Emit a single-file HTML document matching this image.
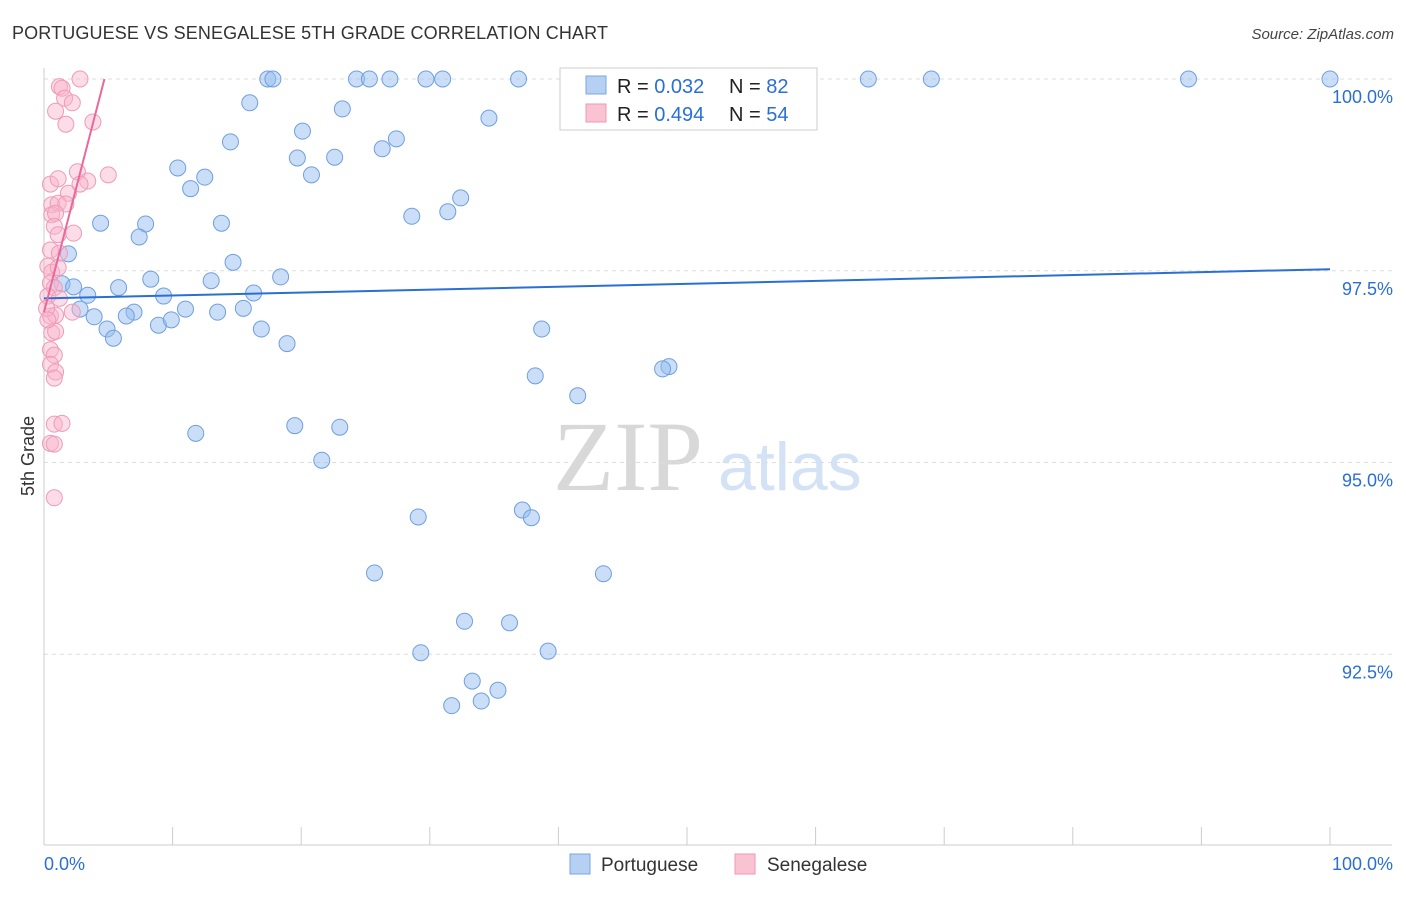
<!DOCTYPE html>
<html><head><meta charset="utf-8"><style>
body{margin:0;background:#fff;font-family:"Liberation Sans",sans-serif}
</style></head><body>
<svg id="chart" width="1406" height="892" xmlns="http://www.w3.org/2000/svg" font-family="Liberation Sans, sans-serif">
<text x="12" y="39" font-size="18" fill="#333" textLength="596">PORTUGUESE VS SENEGALESE 5TH GRADE CORRELATION CHART</text>
<text x="1394" y="39" font-size="15" fill="#444" text-anchor="end" font-style="italic">Source: ZipAtlas.com</text>
<text x="553" y="490" font-size="100" fill="#d8d8d8" style="font-family:'Liberation Serif',serif">ZIP</text>
<text x="718" y="490" font-size="68" fill="#d3e2f5">atlas</text>
<text transform="translate(34,456) rotate(-90)" font-size="18" fill="#333" text-anchor="middle">5th Grade</text>
<g id="grid"></g><g id="axes"></g><g id="pts"></g><g id="trends"></g>
<g>
<rect x="560" y="68" width="257" height="62" fill="#fff" stroke="#ccc"/>
<rect x="586" y="76" width="20" height="18" fill="#b5d0f2" stroke="#7aa7e0"/>
<text x="617" y="93" font-size="20" fill="#222">R = <tspan fill="#2a6fd4">0.032</tspan></text>
<text x="729" y="93" font-size="20" fill="#222">N = <tspan fill="#2a6fd4">82</tspan></text>
<rect x="586" y="104" width="20" height="18" fill="#fac3d3" stroke="#ee98b5"/>
<text x="617" y="121" font-size="20" fill="#222">R = <tspan fill="#2a6fd4">0.494</tspan></text>
<text x="729" y="121" font-size="20" fill="#222">N = <tspan fill="#2a6fd4">54</tspan></text>
</g>
<g>
<rect x="570" y="854" width="20" height="20" fill="#b5d0f2" stroke="#7aa7e0"/>
<text x="601" y="871" font-size="19" fill="#333">Portuguese</text>
<rect x="735" y="854" width="20" height="20" fill="#fac3d3" stroke="#ee98b5"/>
<text x="767" y="871" font-size="19" fill="#333">Senegalese</text>
</g>
</svg>
<script>
const yTicks=[100,97.5,95,92.5];
const yTickLabels=["100.0%","97.5%","95.0%","92.5%"];
const xTickLabels=["0.0%","100.0%"];
const blueX=[17.4,17.8,24.3,25.3,26.9,29.7,31.0,36.9,45.4,64.1,69.0,89.0,100,16.0,23.2,34.6,20.1,14.5,27.4,26.3,19.7,22.6,10.4,12.5,20.8,11.4,32.4,31.4,28.6,4.4,7.9,13.8,7.4,1.9,14.7,18.4,8.3,13.0,1.4,2.3,5.8,16.3,3.4,9.3,2.8,3.9,7.0,11.0,13.5,15.5,6.4,8.9,9.9,4.9,5.4,16.9,38.7,18.9,48.6,48.1,38.2,41.5,11.8,19.5,23.0,21.6,29.1,37.2,37.9,25.7,43.5,32.7,36.2,29.3,39.2,33.3,35.3,31.7,34.0];
const blueY=[100,100,100,100,100,100,100,100,100,100,100,100,100,99.69,99.61,99.49,99.32,99.18,99.22,99.09,98.97,98.98,98.84,98.72,98.75,98.57,98.45,98.27,98.21,98.12,98.11,98.12,97.94,97.72,97.61,97.42,97.39,97.37,97.33,97.29,97.28,97.21,97.18,97.17,97.00,96.90,96.96,97.00,96.96,97.01,96.91,96.79,96.86,96.74,96.62,96.74,96.74,96.55,96.25,96.22,96.13,95.87,95.38,95.48,95.46,95.03,94.29,94.38,94.28,93.56,93.55,92.93,92.91,92.52,92.54,92.15,92.03,91.83,91.89];
const pinkX=[1.2,1.4,2.8,1.6,2.2,0.9,1.7,3.8,5.0,0.5,1.1,2.6,3.4,1.9,2.8,0.6,1.1,1.7,0.6,0.9,0.8,2.3,1.1,0.5,1.2,0.3,0.6,1.1,0.5,0.8,0.3,1.2,2.2,0.5,0.9,0.6,0.9,0.5,0.8,0.5,0.9,0.8,0.8,1.4,0.5,0.8,0.8,0.2,0.3];
const pinkY=[99.90,99.88,100,99.75,99.69,99.58,99.41,99.44,98.75,98.63,98.70,98.79,98.67,98.51,98.63,98.36,98.38,98.37,98.23,98.25,98.08,97.99,97.97,97.77,97.73,97.56,97.48,97.54,97.34,97.28,97.17,97.14,96.96,96.91,96.92,96.69,96.71,96.47,96.40,96.28,96.18,96.10,95.50,95.51,95.25,95.24,94.54,97.01,96.86];
const blueTrendX=[0,100], blueTrendY=[97.14,97.52];
const pinkTrendX=[0,4.7], pinkTrendY=[96.96,100];
const NS="http://www.w3.org/2000/svg";
const X0=44,X1=1330,Y100=79,PXPER=76.7;
const sx=v=>X0+(X1-X0)*v/100;
const sy=v=>Y100+(100-v)*PXPER;
function mk(tag,attrs,parent){const e=document.createElementNS(NS,tag);for(const k in attrs)e.setAttribute(k,attrs[k]);parent.appendChild(e);return e;}
const grid=document.getElementById('grid'),axes=document.getElementById('axes'),pts=document.getElementById('pts'),tr=document.getElementById('trends');
yTicks.forEach((t,i)=>{
 const l=mk('line',{x1:44,x2:1392,y1:sy(t),y2:sy(t),stroke:'#ddd','stroke-dasharray':'4,4'},grid);
 
 
 const tx=mk('text',{x:1393,y:sy(t)+24,'font-size':18,fill:'#2a6fd4','text-anchor':'end'},axes);
 tx.textContent=yTickLabels[i];
 
 
});
const ax=mk('line',{x1:44,x2:1392,y1:845,y2:845,stroke:'#ccc'},axes);


const ay=mk('line',{x1:44,x2:44,y1:68,y2:845,stroke:'#ccc'},axes);


for(let i=0;i<=10;i++){
 const t=mk('line',{x1:sx(i*10),x2:sx(i*10),y1:827,y2:845,stroke:'#ccc'},axes);
 
 
}
const xl0=mk('text',{x:44,y:870,'font-size':18,fill:'#2a6fd4'},axes);xl0.textContent=xTickLabels[0];


const xl1=mk('text',{x:1393,y:870,'font-size':18,fill:'#2a6fd4','text-anchor':'end'},axes);xl1.textContent=xTickLabels[1];


blueX.forEach((v,i)=>{
 const c=mk('circle',{cx:sx(v),cy:sy(blueY[i]),r:8,fill:'rgba(150,190,240,0.5)',stroke:'#6f9fe0','stroke-width':1},pts);
 
 
});
pinkX.forEach((v,i)=>{
 const c=mk('circle',{cx:sx(v),cy:sy(pinkY[i]),r:8,fill:'rgba(248,180,202,0.45)',stroke:'#ef9ab8','stroke-width':1},pts);
 
 
});
const bt=mk('line',{x1:sx(blueTrendX[0]),y1:sy(blueTrendY[0]),x2:sx(blueTrendX[1]),y2:sy(blueTrendY[1]),stroke:'#2a6fd4','stroke-width':2},tr);


const pt=mk('line',{x1:sx(pinkTrendX[0]),y1:sy(pinkTrendY[0]),x2:sx(pinkTrendX[1]),y2:sy(pinkTrendY[1]),stroke:'#e8699a','stroke-width':2},tr);


</script>
</body></html>
